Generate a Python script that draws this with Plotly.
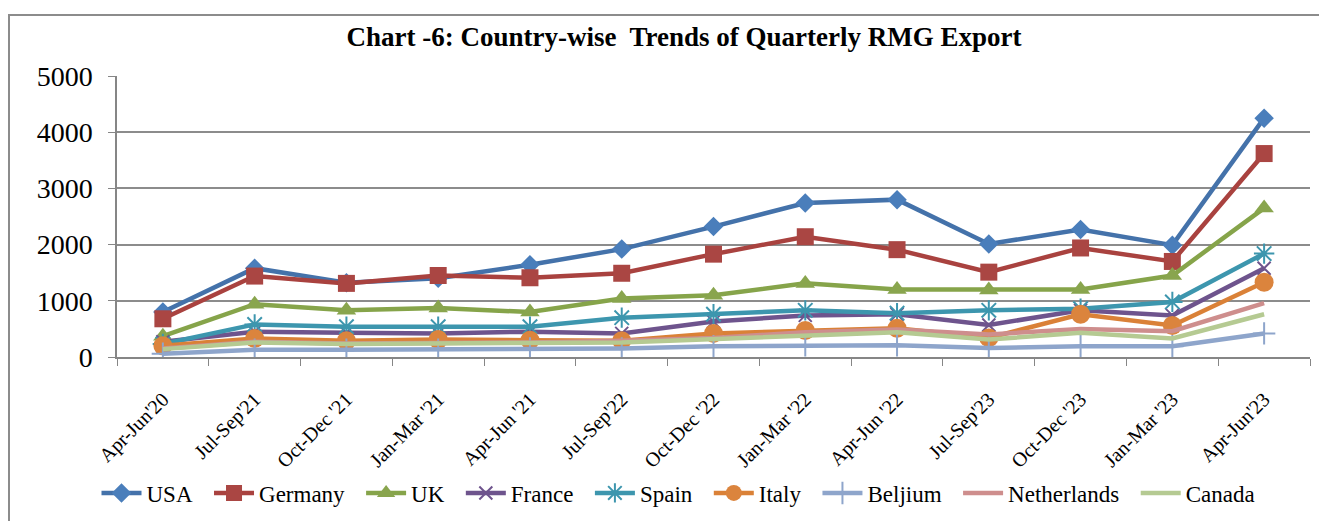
import plotly.graph_objects as go

quarters = ["Apr-Jun'20", "Jul-Sep'21", "Oct-Dec '21", "Jan-Mar '21", "Apr-Jun '21",
            "Jul-Sep'22", "Oct-Dec '22", "Jan-Mar '22", "Apr-Jun '22", "Jul-Sep'23",
            "Oct-Dec '23", "Jan-Mar '23", "Apr-Jun'23"]

usa = [800, 1580, 1320, 1400, 1640, 1920, 2320, 2740, 2800, 2010, 2270, 1990, 4250]
germany = [680, 1440, 1310, 1450, 1410, 1490, 1830, 2140, 1910, 1510, 1940, 1700, 3620]
uk = [370, 940, 830, 870, 800, 1040, 1100, 1310, 1200, 1190, 1200, 1450, 2650]
france = [270, 450, 430, 420, 450, 420, 630, 740, 760, 570, 830, 740, 1580]
spain = [230, 580, 540, 540, 540, 700, 760, 830, 780, 830, 860, 980, 1840]
italy = [200, 330, 290, 310, 300, 290, 420, 470, 510, 340, 760, 560, 1330]
beljium = [60, 130, 130, 130, 150, 150, 190, 210, 210, 160, 190, 190, 420]
netherlands = [150, 270, 240, 250, 260, 290, 340, 440, 490, 400, 500, 460, 960]
canada = [140, 260, 230, 230, 250, 260, 320, 370, 440, 310, 430, 330, 760]

series = [
    ("USA", usa, "#4472AA", dict(symbol="diamond", size=15, color="#4A7EBB")),
    ("Germany", germany, "#A9423F", dict(symbol="square", size=17, color="#AA4643")),
    ("UK", uk, "#86A44A", dict(symbol="triangle-up", size=17, color="#89A54E")),
    ("France", france, "#6E548D", dict(symbol="x-thin-open", size=13, line=dict(width=2, color="#71588F"))),
    ("Spain", spain, "#3D96AE", dict(symbol="asterisk-open", size=17, line=dict(width=2, color="#4198AF"))),
    ("Italy", italy, "#DA8137", dict(symbol="circle", size=19, color="#DB843D")),
    ("Beljium", beljium, "#8EA5CB", dict(symbol="cross-thin-open", size=16, line=dict(width=2, color="#93A9CF"))),
    ("Netherlands", netherlands, "#CE8E8D", None),
    ("Canada", canada, "#B5CA92", None),
]

PAD = "\u00a0" * 2
fig = go.Figure()
for name, vals, col, mk in series:
    lab = name + PAD
    if mk is None:
        fig.add_trace(go.Scatter(x=quarters, y=vals, name=lab, mode="lines",
                                 line=dict(color=col, width=4.5)))
    else:
        fig.add_trace(go.Scatter(x=quarters, y=vals, name=lab, mode="lines+markers",
                                 line=dict(color=col, width=4.5), marker=mk))

# page body has an 8px margin; compensate so the plot lands where intended
OFF = 8
W, H = 1327 - OFF, 521 - OFF
L, R, T, B = 117 - OFF, 17, 76 - OFF, 164
pw, ph = W - L - R, H - T - B

fig.update_layout(
    width=W, height=H,
    margin=dict(l=L, r=R, t=T, b=B, autoexpand=False),
    paper_bgcolor="white", plot_bgcolor="white",
    font=dict(family="Liberation Serif, Times New Roman, serif", color="black"),
    title=dict(text="<b>Chart -6: Country-wise  Trends of Quarterly RMG Export</b>",
               x=(684 - OFF) / W, xanchor="center", y=1 - (37 - OFF) / H, yanchor="middle",
               font=dict(size=27, family="Liberation Serif, serif")),
    xaxis=dict(type="category", tickangle=-45, tickfont=dict(size=20), automargin=False,
               showline=True, linecolor="#868686", linewidth=1.5,
               ticks="outside", tickson="boundaries", ticklen=7, tickcolor="#868686",
               ticklabelstandoff=21,
               showgrid=False, range=[-0.5, 12.5]),
    yaxis=dict(range=[0, 5000], dtick=1000, tickfont=dict(size=28), automargin=False,
               showgrid=True, gridcolor="#8C8C8C", gridwidth=1.5,
               showline=True, linecolor="#868686", linewidth=1.5,
               ticks="outside", ticklen=7, tickcolor="#868686", zeroline=False,
               ticklabelstandoff=10),
    legend=dict(orientation="h", xref="container", x=(684 - OFF) / W, xanchor="center",
                yref="container", y=1 - (493 - OFF) / H, yanchor="middle",
                font=dict(size=23), itemwidth=40, tracegroupgap=0,
                bgcolor="rgba(0,0,0,0)"),
    showlegend=True,
)

fig.add_shape(type="rect", xref="paper", yref="paper",
              x0=(9 - 117) / pw, x1=(1340 - 117) / pw,
              y0=(357 - 540) / ph, y1=(357 - 15) / ph,
              line=dict(color="#8C8C8C", width=2), fillcolor="rgba(0,0,0,0)", layer="below")

fig.write_html("out.html")
